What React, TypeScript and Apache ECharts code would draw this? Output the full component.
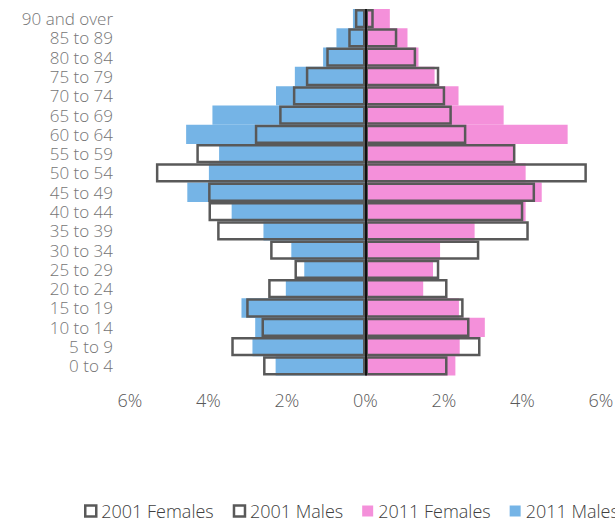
import React, { useEffect, useRef } from "react";
import * as echarts from "echarts";

const categories = [
  "90 and over", "85 to 89", "80 to 84", "75 to 79", "70 to 74", "65 to 69",
  "60 to 64", "55 to 59", "50 to 54", "45 to 49", "40 to 44", "35 to 39",
  "30 to 34", "25 to 29", "20 to 24", "15 to 19", "10 to 14", "5 to 9", "0 to 4",
];

// percentages, top to bottom
const males2011 = [0.32, 0.74, 1.08, 1.8, 2.28, 3.9, 4.57, 3.73, 3.99, 4.54, 3.41, 2.6, 1.89, 1.56, 2.03, 3.16, 2.81, 2.88, 2.29];
const females2011 = [0.62, 1.07, 1.35, 1.76, 2.37, 3.52, 5.15, 3.79, 4.08, 4.49, 4.08, 2.78, 1.9, 1.72, 1.47, 2.38, 3.04, 2.4, 2.29];
const males2001 = [0.27, 0.44, 1.0, 1.52, 1.85, 2.2, 2.82, 4.31, 5.34, 4.01, 4.0, 3.78, 2.43, 1.81, 2.48, 3.04, 2.65, 3.42, 2.61];
const females2001 = [0.21, 0.81, 1.29, 1.88, 2.03, 2.2, 2.57, 3.82, 5.64, 4.32, 4.02, 4.16, 2.9, 1.88, 2.09, 2.5, 2.65, 2.93, 2.09];
const xTicks = { min: -6, max: 6, interval: 2 };

const BLUE = "#75B4E6";
const PINK = "#F490DA";
const OUTLINE = "#595959";
const FONT = "'Open Sans', 'Noto Sans', sans-serif";

export default function App() {
  const ref = useRef<HTMLDivElement>(null);
  useEffect(() => {
    if (!ref.current) return;
    document.body.style.margin = "0";
    const chart = echarts.init(ref.current, undefined, { renderer: "svg" });
    chart.setOption({
      animation: false,
      textStyle: { fontFamily: FONT },
      grid: { left: 130, right: 14, top: 9, height: 366.5, outerBoundsMode: "none", containLabel: false },
      legend: {
        left: 79,
        top: 496,
        width: 800,
        itemWidth: 11,
        itemHeight: 11,
        itemGap: 19,
        icon: "rect",
        textStyle: { fontSize: 18, lineHeight: 20, color: "#404040", fontWeight: 300, fontFamily: FONT },
        data: [
          { name: "2001 Females", itemStyle: { color: "#fff", borderColor: OUTLINE, borderWidth: 2.5 } },
          { name: "2001 Males", itemStyle: { color: "#fff", borderColor: OUTLINE, borderWidth: 2.5 } },
          { name: "2011 Females", itemStyle: { color: PINK } },
          { name: "2011 Males", itemStyle: { color: BLUE } },
        ],
      },
      xAxis: {
        type: "value",
        min: xTicks.min,
        max: xTicks.max,
        interval: xTicks.interval,
        splitLine: { show: false },
        axisLine: { show: false },
        axisTick: { show: false },
        axisLabel: {
          margin: 14,
          fontSize: 18,
          lineHeight: 20,
          color: "#595959",
          fontWeight: 300,
          fontFamily: FONT,
          formatter: (v: number) => Math.abs(v) + "%",
        },
      },
      yAxis: {
        type: "category",
        inverse: true,
        data: categories,
        axisLine: { show: false },
        axisTick: { show: false },
        axisLabel: { interval: 0, margin: 17, fontSize: 17, lineHeight: 17, color: "#757575", fontWeight: 300, fontFamily: FONT },
      },
      series: [
        {
          name: "2011 Males",
          type: "bar",
          stack: "s2011",
          barCategoryGap: 0,
          barGap: "-100%",
          itemStyle: { color: BLUE },
          data: males2011.map((v) => -v),
        },
        {
          name: "2011 Females",
          type: "bar",
          stack: "s2011",
          barCategoryGap: 0,
          barGap: "-100%",
          itemStyle: { color: PINK },
          data: females2011,
        },
        {
          name: "2001 Males",
          type: "bar",
          stack: "s2001",
          barCategoryGap: 0,
          barGap: "-100%",
          itemStyle: { color: "rgba(0,0,0,0)", borderColor: OUTLINE, borderWidth: 2.5 },
          data: males2001.map((v) => -v),
        },
        {
          name: "2001 Females",
          type: "bar",
          stack: "s2001",
          barCategoryGap: 0,
          barGap: "-100%",
          itemStyle: { color: "rgba(0,0,0,0)", borderColor: OUTLINE, borderWidth: 2.5 },
          data: females2001,
          markLine: {
            silent: true,
            symbol: ["none", "none"],
            label: { show: false },
            lineStyle: { color: "#111", width: 2, type: "solid" },
            data: [{ xAxis: 0 }],
          },
        },
      ],
    });
    return () => chart.dispose();
  }, []);
  return <div ref={ref} style={{ width: 615, height: 521 }} />;
}
